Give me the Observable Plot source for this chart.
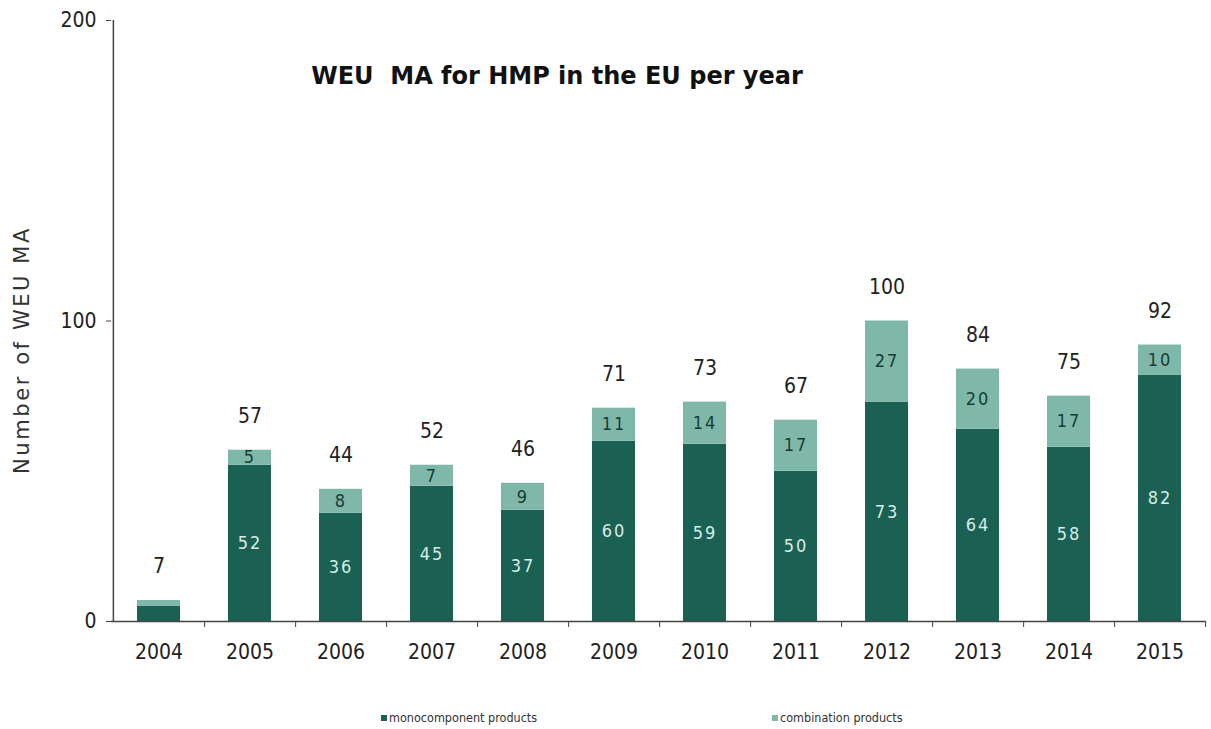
<!DOCTYPE html>
<html>
<head>
<meta charset="utf-8">
<script src="https://cdn.jsdelivr.net/npm/d3@7"></script>
<script src="https://cdn.jsdelivr.net/npm/@observablehq/plot@0.6"></script>
<style>
  html, body { margin: 0; padding: 0; background: #fff; }
  #wrap { position: relative; width: 1211px; height: 729px; font-family: "DejaVu Sans Condensed", "DejaVu Sans", sans-serif; }
  #title { position: absolute; left: 0; width: 1114px; top: 62px; text-align: center; font-family: "DejaVu Sans", sans-serif; font-weight: bold; font-size: 24px; color: #111; white-space: pre; }
  #ylabel { position: absolute; left: 22px; top: 350px; transform: translate(-50%, -50%) rotate(-90deg); font-family: "DejaVu Sans", sans-serif; font-size: 21px; letter-spacing: 2.6px; color: #333; white-space: nowrap; }
  #legend { position: absolute; top: 710px; left: 0; width: 1211px; font-size: 12.5px; color: #333; }
  .item { position: absolute; white-space: nowrap; }
  .sw { display: inline-block; width: 6px; height: 6px; margin-right: 2px; vertical-align: 1px; }
</style>
</head>
<body>
<div id="wrap">
  <div id="chart"></div>
  <div id="title"></div>
  <div id="ylabel"></div>
  <div id="legend"></div>
</div>
<script>
const years = ["2004","2005","2006","2007","2008","2009","2010","2011","2012","2013","2014","2015"];
const mono = [5, 52, 36, 45, 37, 60, 59, 50, 73, 64, 58, 82];
const combo = [2, 5, 8, 7, 9, 11, 14, 17, 27, 20, 17, 10];
const totals = [7, 57, 44, 52, 46, 71, 73, 67, 100, 84, 75, 92];
const seriesNames = ["monocomponent products", "combination products"];
const seriesColors = ["#1b6153", "#7fb8a9"];
const yTicks = [0, 100, 200];
const titleText = "WEU  MA for HMP in the EU per year";
const yLabelText = "Number of WEU MA";

const rows = [];
years.forEach((y, i) => {
  rows.push({year: y, type: seriesNames[0], value: mono[i]});
  rows.push({year: y, type: seriesNames[1], value: combo[i]});
});
const perYear = years.map((y, i) => ({year: y, mono: mono[i], combo: combo[i], total: totals[i]}));
const labeled = perYear.filter(d => d.year !== "2004");

const W = 1211, ML = 111, MR = 5;
const step = (W - ML - MR) / years.length;

const plot = Plot.plot({
  width: W,
  height: 671,
  marginLeft: ML,
  marginRight: MR,
  marginTop: 20,
  marginBottom: 50,
  style: {fontFamily: '"DejaVu Sans Condensed", "DejaVu Sans", sans-serif', color: "#222", background: "#fff"},
  x: {domain: years, paddingInner: 0.53, paddingOuter: 0.265},
  y: {domain: [0, 200]},
  color: {domain: seriesNames, range: seriesColors},
  marks: [
    Plot.barY(rows, Plot.stackY({x: "year", y: "value", fill: "type", order: seriesNames})),
    Plot.text(labeled, {x: "year", y: d => d.mono / 2, text: "mono", fill: "#d6ece5", fontSize: 18, ariaDescription: "inner"}),
    Plot.text(labeled, {x: "year", y: d => d.mono + d.combo / 2, text: "combo", fill: "#163d35", fontSize: 18, ariaDescription: "inner"}),
    Plot.text(perYear, {x: "year", y: "total", text: "total", dy: -34, fill: "#222", fontSize: 21}),
    Plot.ruleY([0], {stroke: "#444", strokeWidth: 1.5}),
    Plot.ruleX([years[0]], {dx: -step / 2, stroke: "#444", strokeWidth: 1.5}),
    Plot.axisY({ticks: yTicks, tickSize: 5, tickPadding: 10, fontSize: 21, label: null, stroke: "#444"}),
    Plot.axisX({tickSize: 0, tickPadding: 23, fontSize: 21, label: null}),
    Plot.axisX({tickSize: 6, text: null, dx: step / 2, label: null, stroke: "#444"})
  ]
});
document.getElementById("chart").appendChild(plot);
d3.select(plot).selectAll('g[aria-description="inner"] text').style("letter-spacing", "2px");

document.getElementById("title").textContent = titleText;
document.getElementById("ylabel").textContent = yLabelText;

const legend = document.getElementById("legend");
const legendX = [381, 772];
seriesNames.forEach((name, i) => {
  const it = document.createElement("div");
  it.className = "item";
  it.style.left = legendX[i] + "px";
  it.innerHTML = `<span class="sw" style="background:${seriesColors[i]}"></span>${name}`;
  legend.appendChild(it);
});
</script>
</body>
</html>
